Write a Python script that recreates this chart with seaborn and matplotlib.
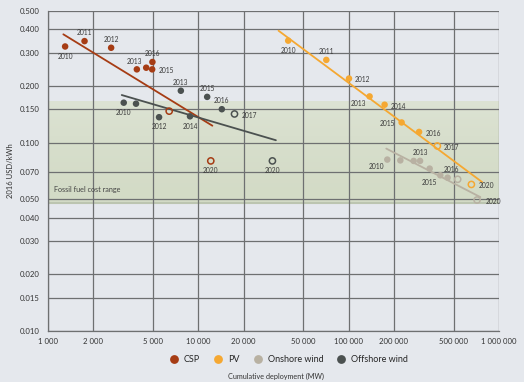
import numpy as np
import pandas as pd
import matplotlib
matplotlib.use("Agg")
import matplotlib.pyplot as plt
import seaborn as sns
from matplotlib.ticker import FixedLocator, FixedFormatter, NullLocator

# ---- data (cumulative MW, 2016 USD/kWh) ----
csp_years = [2010, 2011, 2012, 2013, 2014, 2015, 2016, 2017, 2020]
csp_mw = [1300, 1750, 2630, 3900, 4500, 4930, 4950, 6400, 12100]
csp_cost = [0.324, 0.346, 0.319, 0.245, 0.250, 0.245, 0.268, 0.147, 0.080]
csp_fit_mw = [1265, 12400]
csp_fit_cost = [0.376, 0.123]

pv_years = [2010, 2011, 2012, 2013, 2014, 2015, 2016, 2017, 2020]
pv_mw = [39600, 71000, 100500, 137800, 173400, 225000, 294000, 389000, 655000]
pv_cost = [0.348, 0.275, 0.219, 0.176, 0.159, 0.128, 0.114, 0.096, 0.060]
pv_fit_mw = [34150, 771500]
pv_fit_cost = [0.393, 0.0618]

on_years = [2010, 2011, 2012, 2013, 2014, 2015, 2016, 2017, 2020]
on_mw = [180700, 220600, 270500, 298400, 345700, 407000, 455000, 531000, 714700]
on_cost = [0.0813, 0.0805, 0.0800, 0.0800, 0.0728, 0.0671, 0.0652, 0.0639, 0.0496]
on_fit_mw = [177900, 751600]
on_fit_cost = [0.093, 0.0514]

off_years = [2010, 2011, 2012, 2013, 2014, 2015, 2016, 2017, 2020]
off_mw = [3190, 3850, 5480, 7650, 8800, 11450, 14330, 17400, 31100]
off_cost = [0.163, 0.161, 0.1365, 0.1886, 0.138, 0.175, 0.1505, 0.142, 0.080]
off_fit_mw = [3094, 32800]
off_fit_cost = [0.179, 0.103]

fossil_range = [0.048, 0.168]

techs = ["CSP", "PV", "Onshore wind", "Offshore wind"]
colors = {"CSP": "#a63c14", "PV": "#f5a832", "Onshore wind": "#b8b1a2",
          "Offshore wind": "#4b5150"}

x_ticks = [1000, 2000, 5000, 10000, 20000, 50000, 100000, 200000, 500000, 1000000]
x_labels = ["1 000", "2 000", "5 000", "10 000", "20 000", "50 000",
            "100 000", "200 000", "500 000", "1 000 000"]
y_ticks = [0.010, 0.015, 0.020, 0.030, 0.040, 0.050, 0.070, 0.100, 0.150,
           0.200, 0.300, 0.400, 0.500]
y_labels = ["%.3f" % v for v in y_ticks]

# label placement for each point: (dx, dy) in points, or None for no label
csp_lab = [(0, -7), (0, 6), (0, 6), (-2, 6), None, (10, -1), (0, 6), None, (0, -7)]
pv_lab = [(0, -7), (0, 6), (10, -1), (-8, -5), (10, -1), (-10, -1), (10, -1), (10, -1), (11, -1)]
on_lab = [(-8, -5), None, None, (0, 6), None, (-8, -5), (3, 6), None, (12, -1)]
off_lab = [(0, -7), None, (0, -7), (0, 6), (0, -7), (0, 6), (0, 6), (11, -1), (0, -7)]

rows = []
for tech, yrs, xs, ys, labs in [("CSP", csp_years, csp_mw, csp_cost, csp_lab),
                               ("PV", pv_years, pv_mw, pv_cost, pv_lab),
                               ("Onshore wind", on_years, on_mw, on_cost, on_lab),
                               ("Offshore wind", off_years, off_mw, off_cost, off_lab)]:
    for yr, x, y, lab in zip(yrs, xs, ys, labs):
        rows.append({"tech": tech, "year": yr, "mw": x, "cost": y,
                     "proj": yr >= 2017, "lab": lab})
df = pd.DataFrame(rows)

fits = pd.DataFrame({
    "tech": ["CSP"] * 2 + ["PV"] * 2 + ["Onshore wind"] * 2 + ["Offshore wind"] * 2,
    "mw": csp_fit_mw + pv_fit_mw + on_fit_mw + off_fit_mw,
    "cost": csp_fit_cost + pv_fit_cost + on_fit_cost + off_fit_cost,
})

bg = "#e5e8ed"
sns.set_style("white")
plt.rcParams["font.family"] = ["Lato", "DejaVu Sans"]

fig = plt.figure(figsize=(5.24, 3.82), dpi=100, facecolor=bg)
ax = fig.add_axes([0.0916, 0.1335, 0.8607, 0.8377])
ax.set_facecolor(bg)
ax.set_xscale("log")
ax.set_yscale("log")
ax.set_xlim(1000, 1000000)
ax.set_ylim(0.010, 0.500)

# fossil fuel band (light at top, a bit greener towards the bottom)
grad = np.linspace(0, 1, 50).reshape(-1, 1)
from matplotlib.colors import LinearSegmentedColormap
band_cmap = LinearSegmentedColormap.from_list("band", ["#d3dbc6", "#dde3d4"])
ax.imshow(grad, cmap=band_cmap, aspect="auto", origin="lower",
          extent=[1000, 1000000, fossil_range[0], fossil_range[1]], zorder=0)
ax.set_xlim(1000, 1000000)
ax.set_ylim(0.010, 0.500)
ax.axhline(fossil_range[0], color="#bcc5b0", lw=1.5, zorder=0.5)
ax.text(1100, 0.0545, "Fossil fuel cost range", fontsize=5.2, color="#444444")

ax.xaxis.set_major_locator(FixedLocator(x_ticks))
ax.xaxis.set_major_formatter(FixedFormatter(x_labels))
ax.xaxis.set_minor_locator(NullLocator())
ax.yaxis.set_major_locator(FixedLocator(y_ticks))
ax.yaxis.set_major_formatter(FixedFormatter(y_labels))
ax.yaxis.set_minor_locator(NullLocator())
ax.grid(True, color="#6e7071", lw=0.9, zorder=1)
ax.set_axisbelow(True)
for s in ["top", "right"]:
    ax.spines[s].set_visible(False)
for s in ["left", "bottom"]:
    ax.spines[s].set_color("#6e7071")
    ax.spines[s].set_linewidth(0.9)
ax.tick_params(axis="both", labelsize=5.6, colors="#6e7071", labelcolor="#333333",
               length=3, width=0.9, pad=2)
ax.tick_params(axis="y", length=0, pad=6)

# trend lines
sns.lineplot(data=fits, x="mw", y="cost", hue="tech", palette=colors, lw=1.3,
             legend=False, ax=ax, zorder=3)

# filled (historic) points
sns.scatterplot(data=df[~df.proj], x="mw", y="cost", hue="tech", hue_order=techs,
                palette=colors, s=22, linewidth=0, ax=ax, zorder=4, legend=True)
# hollow (projected) points
for tech in techs:
    sub = df[df.proj & (df.tech == tech)]
    ax.scatter(sub.mw, sub.cost, s=20, facecolors="none", edgecolors=colors[tech],
               linewidths=1.1, zorder=4)

for _, r in df.iterrows():
    if r.lab is None:
        continue
    ax.annotate(str(r.year), (r.mw, r.cost), xytext=r.lab, textcoords="offset points",
                ha="center", va="center", fontsize=4.8, color="#3a3a3a", zorder=5)

ax.set_xlabel("")
ax.set_ylabel("2016 USD/kWh", fontsize=5.5, color="#333333", labelpad=4)

handles, labels = ax.get_legend_handles_labels()
ax.legend(handles, labels, loc="center", bbox_to_anchor=(0.5 * (183 + 390) / 524, 1 - 360 / 382),
          bbox_transform=fig.transFigure, ncol=4, frameon=False, fontsize=6.5,
          handletextpad=0.1, columnspacing=1.0, markerscale=1.35)
fig.text(276 / 524, 1 - 376 / 382, "Cumulative deployment (MW)", ha="center",
         va="center", fontsize=5.2, color="#333333")

fig.savefig("out.png", dpi=100, facecolor=bg)
